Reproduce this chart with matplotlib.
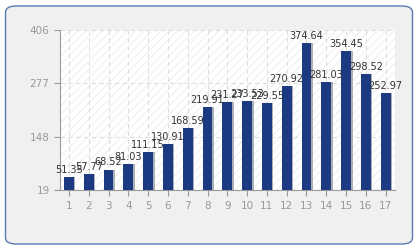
import matplotlib
matplotlib.use("Agg")
import matplotlib.pyplot as plt
from matplotlib.patches import FancyBboxPatch, Rectangle

categories = [str(i) for i in range(1, 18)]
values = [51.35, 57.77, 68.52, 81.03, 111.15, 130.91, 168.59, 219.91, 231.27,
          233.53, 229.55, 270.92, 374.64, 281.03, 354.45, 298.52, 252.97]
yticks = [19, 148, 277, 406]

plt.rcParams['hatch.color'] = '#ebebeb'
plt.rcParams['hatch.linewidth'] = 0.6

fig = plt.figure(figsize=(4.2, 2.5), dpi=100)
fig.patch.set_facecolor("white")
border = FancyBboxPatch((5.5/420, 6/250), 407/420, 238/250,
                        boxstyle="round,pad=0,rounding_size=0.025",
                        transform=fig.transFigure, facecolor="#f0f0f0",
                        edgecolor="#5a78b4", linewidth=1.0, zorder=-10)
fig.patches.append(border)

ax = fig.add_axes([60/420, 1-190/250, 335/420, 160/250])
ax.set_facecolor("white")
x = list(range(1, 18))
ax.set_xlim(0.55, 17.47)
ax.set_ylim(19, 406)

bg = Rectangle((0, 0), 1, 1, transform=ax.transAxes, facecolor="white",
               edgecolor="#ebebeb", hatch="////", linewidth=0, zorder=0)
ax.add_patch(bg)

for xi in x:
    ax.axvline(xi, color="#dddddd", linestyle=(0, (4, 3)), linewidth=0.8, zorder=1)
for yt in yticks[1:]:
    ax.axhline(yt, color="#dddddd", linestyle=(0, (4, 3)), linewidth=0.8, zorder=1)

ax.bar([xi + 0.08 for xi in x], values, width=0.5, bottom=0, color="#8a8f9a",
       alpha=0.7, zorder=2)
ax.bar(x, values, width=0.5, color="#1b3a82", zorder=3)

for xi, v in zip(x, values):
    ax.annotate(f"{v:.2f}", (xi, v), xytext=(0, 1.5), textcoords="offset points",
                ha="center", va="bottom", fontsize=7, color="#333333", zorder=4)

ax.set_xticks(x)
ax.set_xticklabels(categories)
ax.set_yticks(yticks)
ax.set_yticklabels([str(t) for t in yticks])
ax.tick_params(axis="both", colors="#999999", labelcolor="#999999",
               labelsize=7.5, length=4, width=0.8, direction="out")
ax.tick_params(axis="x", pad=4)
for s in ["top", "right"]:
    ax.spines[s].set_visible(False)
for s in ["left", "bottom"]:
    ax.spines[s].set_color("#999999")
    ax.spines[s].set_linewidth(0.8)

fig.savefig("out.png", dpi=100, facecolor=fig.get_facecolor())
